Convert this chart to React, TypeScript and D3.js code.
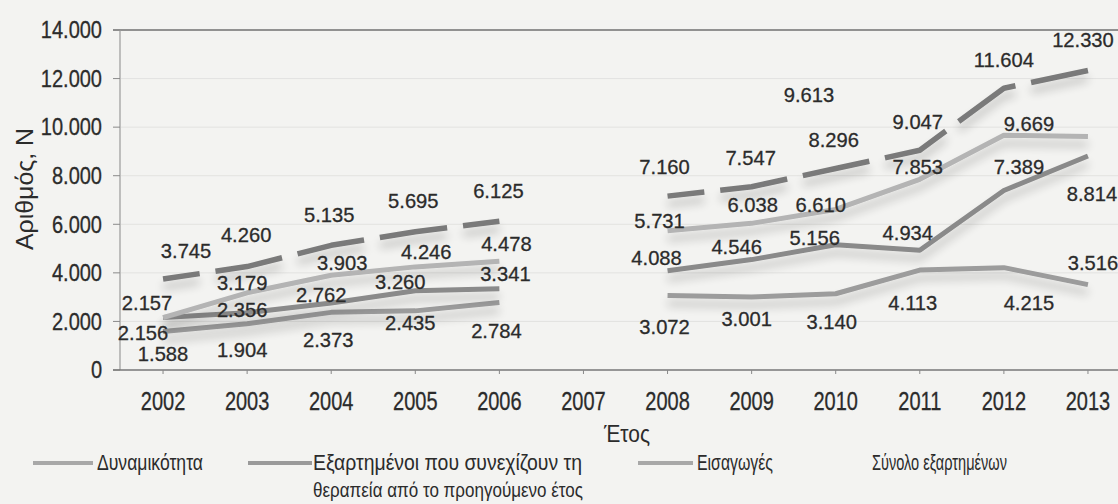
import React from 'react';
import * as d3 from 'd3';

// ---- data ----
const years = ['2002', '2003', '2004', '2005', '2006', '2007', '2008', '2009', '2010', '2011', '2012', '2013'];
const dynamikotita = [2156, 3179, 3903, 4246, 4478, null, 5731, 6038, 6610, 7853, 9669, 9613];
const continuing = [2157, 2356, 2762, 3260, 3341, null, 4088, 4546, 5156, 4934, 7389, 8814];
const imports = [1588, 1904, 2373, 2435, 2784, null, 3072, 3001, 3140, 4113, 4215, 3516];
const total = [3745, 4260, 5135, 5695, 6125, null, 7160, 7547, 8296, 9047, 11604, 12330];
const yTicks = [0, 2000, 4000, 6000, 8000, 10000, 12000, 14000];

const seriesNames = [
  'Δυναμικότητα',
  'Εξαρτημένοι που συνεχίζουν τη',
  'Εισαγωγές',
  'Σύνολο εξαρτημένων',
];
const seriesName2Line = 'θεραπεία από το προηγούμενο έτος';
const xTitle = 'Έτος';
const yTitle = 'Αριθμός, N';

// ---- label offsets (relative to point) ----
const offTotal = [[23, -29], [-1, -32], [-2, -31], [-2, -31], [-1, -31], null, [-3, -30], [-1, -29], [-2, -29], [-2, -29], [0, -29], [-5, -31]];
const offDyn = [[-20, 15], [-5, -10], [11, -13], [11, -15], [7, -18], null, [-8, -10], [1, -19], [-15, -5], [-2, -13], [25, -12], [-279, -42]];
const offCont = [[-16, -15], [-5, -3], [-10, -8], [-15, -9], [6, -15], null, [-11, -13], [-15, -13], [-21, -7], [-12, -18], [15, -24], [4, 37]];
const offImp = [[0, 22], [-5, 26], [-3, 27], [-5, 12], [-3, 28], null, [-3, 31], [-5, 21], [-4, 28], [-7, 32], [25, 35], [5, -22]];

const W = 1118;
const H = 504;
const FONT = 'Arial, "Liberation Sans", Helvetica, sans-serif';
const TXT = '#2b2b2b';

export default function App() {
  const x = d3.scalePoint<string>().domain(years).range([121, 1130]).padding(0.5);
  const y = d3.scaleLinear().domain([0, 14000]).range([370, 30]);
  const fmt = d3.formatLocale({ decimal: ',', thousands: '.', grouping: [3], currency: ['', ''] }).format(',d');

  const line = d3
    .line<number | null>()
    .defined((d) => d != null)
    .x((_d, i) => x(years[i]) as number)
    .y((d) => y(d as number));

  const series = [
    { values: imports, color: '#9c9c9c', width: 5, dash: undefined as string | undefined, offs: offImp },
    { values: continuing, color: '#8a8a8a', width: 5, dash: undefined, offs: offCont },
    { values: dynamikotita, color: '#b4b4b4', width: 5, dash: undefined, offs: offDyn },
    { values: total, color: '#7a7a7a', width: 5.5, dash: '68 16', offs: offTotal },
  ];

  const plotRight = W;

  return (
    <svg width={W} height={H} style={{ position: 'fixed', left: 0, top: 0, background: '#f3f3f1' }} fontFamily={FONT}>
      <defs>
        <filter id="sh" x="-10%" y="-50%" width="120%" height="250%">
          <feGaussianBlur in="SourceAlpha" stdDeviation="5" result="b" />
          <feOffset in="b" dx="0" dy="8" result="o" />
          <feComponentTransfer in="o" result="s">
            <feFuncA type="linear" slope="0.22" />
          </feComponentTransfer>
          <feMerge>
            <feMergeNode in="s" />
            <feMergeNode in="SourceGraphic" />
          </feMerge>
        </filter>
      </defs>
      <rect x={0} y={0} width={W} height={H} fill="#f3f3f1" />

      {/* grid */}
      {yTicks.slice(1, -1).map((t) => (
        <line key={'g' + t} x1={121} x2={plotRight} y1={y(t)} y2={y(t)} stroke="#e2e2e0" strokeWidth={1} />
      ))}
      {/* top border */}
      <line x1={113} x2={plotRight} y1={y(14000)} y2={y(14000)} stroke="#707070" strokeWidth={1.5} />
      {/* y axis */}
      <line x1={120} x2={120} y1={y(14000)} y2={y(0)} stroke="#9a9a9a" strokeWidth={1.2} />
      {yTicks.map((t) => (
        <line key={'yt' + t} x1={113} x2={120} y1={y(t)} y2={y(t)} stroke="#8a8a8a" strokeWidth={1} />
      ))}
      {/* x axis */}
      <line x1={113} x2={plotRight} y1={y(0)} y2={y(0)} stroke="#777" strokeWidth={1.5} />
      {years.map((yr) => (
        <line key={'xt' + yr} x1={x(yr)} x2={x(yr)} y1={y(0)} y2={y(0) + 4} stroke="#888" strokeWidth={1} />
      ))}

      {/* y tick labels */}
      {yTicks.map((t) => (
        <text
          key={'yl' + t}
          transform={`translate(102,${y(t)}) scale(0.87,1)`}
          textAnchor="end"
          dy="0.36em"
          fontSize={23}
          fill={TXT}
          stroke={TXT}
          strokeWidth={0.3}
        >
          {fmt(t)}
        </text>
      ))}
      {/* x tick labels */}
      {years.map((yr) => (
        <text
          key={'xl' + yr}
          transform={`translate(${x(yr)},${401}) scale(0.8,1)`}
          textAnchor="middle"
          dy="0.36em"
          fontSize={25}
          fill={TXT}
          stroke={TXT}
          strokeWidth={0.3}
        >
          {yr}
        </text>
      ))}

      {/* titles */}
      <text transform="translate(33,189) rotate(-90)" textAnchor="middle" fontSize={23} fill={TXT} textLength={122} lengthAdjust="spacingAndGlyphs">
        {yTitle}
      </text>
      <text x={627} y={434} dy="0.36em" textAnchor="middle" fontSize={23} fill={TXT} textLength={46} lengthAdjust="spacingAndGlyphs">
        {xTitle}
      </text>

      {/* lines */}
      {series.map((s, i) => (
        <path
          key={'s' + i}
          d={line(s.values) || ''}
          fill="none"
          stroke={s.color}
          strokeWidth={s.width}
          strokeDasharray={s.dash}
          strokeDashoffset={s.dash ? 31 : undefined}
          strokeLinejoin="round"
          filter="url(#sh)"
        />
      ))}

      {/* data labels */}
      {series.map((s, si) =>
        s.values.map((v, i) => {
          const o = s.offs[i];
          if (v == null || !o) return null;
          return (
            <text
              key={'l' + si + '-' + i}
              transform={`translate(${(x(years[i]) as number) + o[0]},${y(v) + o[1]}) scale(0.96,1)`}
              textAnchor="middle"
              dy="0.36em"
              fontSize={21}
              fill={TXT}
              stroke={TXT}
              strokeWidth={0.3}
            >
              {fmt(v)}
            </text>
          );
        })
      )}

      {/* legend */}
      <line x1={33} x2={93} y1={463} y2={463} stroke="#a8a8a8" strokeWidth={4} />
      <text x={97} y={470} fontSize={22} fill={TXT} textLength={106} lengthAdjust="spacingAndGlyphs">
        {seriesNames[0]}
      </text>
      <line x1={248} x2={312} y1={463} y2={463} stroke="#9a9a9a" strokeWidth={4} />
      <text x={313} y={470} fontSize={22} fill={TXT} textLength={269} lengthAdjust="spacingAndGlyphs">
        {seriesNames[1]}
      </text>
      <text x={313} y={497} fontSize={21} fill={TXT} textLength={270} lengthAdjust="spacingAndGlyphs">
        {seriesName2Line}
      </text>
      <line x1={638} x2={693} y1={463} y2={463} stroke="#a8a8a8" strokeWidth={4} />
      <text x={697} y={470} fontSize={22} fill={TXT} textLength={76} lengthAdjust="spacingAndGlyphs">
        {seriesNames[2]}
      </text>
      <text x={872} y={470} fontSize={22} fill={TXT} textLength={135} lengthAdjust="spacingAndGlyphs">
        {seriesNames[3]}
      </text>
    </svg>
  );
}
